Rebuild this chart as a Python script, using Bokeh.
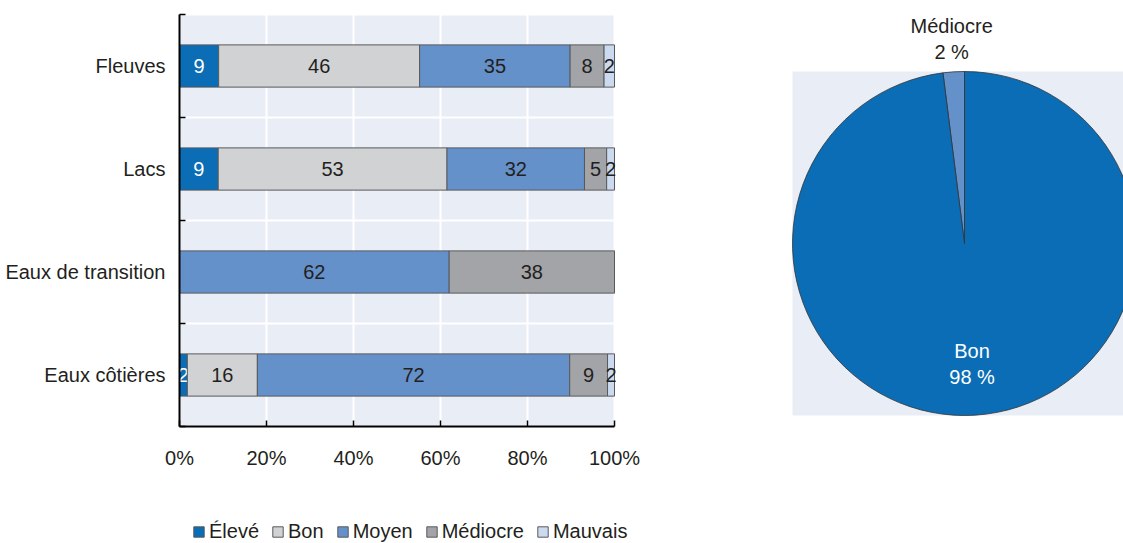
import math
from bokeh.plotting import figure
from bokeh.models import (FixedTicker, Legend, LegendItem, ColumnDataSource, Range1d,
                          LinearAxis)
from bokeh.core.properties import value
from bokeh.embed import file_html
from bokeh.resources import INLINE

# ---------------- data ----------------
categories = ["Fleuves", "Lacs", "Eaux de transition", "Eaux côtières"]
series = ["Élevé", "Bon", "Moyen", "Médiocre", "Mauvais"]
eleve = [9.0, 8.9, 0.0, 1.8]
bon = [46.2, 52.6, 0.0, 16.1]
moyen = [34.6, 31.6, 62.0, 71.8]
mediocre = [7.8, 5.1, 38.0, 8.7]
mauvais = [2.4, 1.8, 0.0, 1.6]
x_ticks = [0, 20, 40, 60, 80, 100]
x_tick_labels = ["0%", "20%", "40%", "60%", "80%", "100%"]

pie_labels = ["Médiocre", "Bon"]
pie_values = [2, 98]

# ---------------- style / geometry ----------------
FONT = "Liberation Sans"
FS = "20px"
TXT = "#231F20"
BG = "#E9EDF6"
colors = ["#0A6DB5", "#D1D2D4", "#6591CB", "#A2A4A7", "#CCDAF0"]
label_colors = ["white", TXT, TXT, TXT, TXT]
pie_colors = [colors[2], colors[0]]
pie_text_colors = [TXT, "white"]

W, H = 1123, 543
# bar panel placement in page pixels
BX0, BX1, BY0, BY1 = 179, 614, 14, 426
# pie placement in page pixels
PCX, PCY, PR = 964, 243, 172

n = len(categories)
xmax = 100.0
sx = (BX1 - BX0) / xmax          # px per x unit
sy = (BY1 - BY0) / n             # px per category band
x_range = Range1d(-BX0 / sx, (W - BX0) / sx)
y_range = Range1d(-(H - BY1) / sy, n + BY0 / sy)
pie_xr = Range1d(-PCX / PR, (W - PCX) / PR)
pie_yr = Range1d(-(H - PCY) / PR, PCY / PR)

p = figure(width=W, height=H, x_range=x_range, y_range=y_range,
           output_backend="svg", toolbar_location=None, min_border=0,
           x_axis_location=None, y_axis_location=None)
p.extra_x_ranges = {"pie": pie_xr}
p.extra_y_ranges = {"pie": pie_yr}
p.background_fill_color = "white"
p.border_fill_color = "white"
p.outline_line_color = None
p.grid.visible = False

ypos = [n - i - 0.5 for i in range(n)]
bounds = list(range(n + 1))

# plot-area background and white grid
p.quad(left=[0], right=[xmax], bottom=[0], top=[n], fill_color=BG, line_color=None)
p.segment(x0=x_ticks, y0=[0] * len(x_ticks), x1=x_ticks, y1=[n] * len(x_ticks),
          line_color="white", line_width=2)
p.segment(x0=[0] * len(bounds), y0=bounds, x1=[xmax] * len(bounds), y1=bounds,
          line_color="white", line_width=2)

values = [eleve, bon, moyen, mediocre, mauvais]
left = [0.0] * n
items = []
for s, vals, col, lc in zip(series, values, colors, label_colors):
    right = [l + v for l, v in zip(left, vals)]
    src = ColumnDataSource(dict(y=ypos, left=left, right=right))
    r = p.hbar(y="y", left="left", right="right", height=0.41, source=src,
               fill_color=col, line_color="#58595B", line_width=1)
    items.append(LegendItem(label=s, renderers=[r]))
    tx, ty, tt = [], [], []
    for l, rr, v, y in zip(left, right, vals, ypos):
        if v > 0:
            tx.append((l + rr) / 2)
            ty.append(y)
            tt.append(str(int(round(v))))
    p.text(x=tx, y=ty, text=tt, text_align="center", text_baseline="middle",
           text_font=value(FONT), text_font_size=FS, text_color=lc)
    left = right

# x axis (drawn at y = 0 inside the canvas)
xaxis = LinearAxis(fixed_location=0, bounds=(0, xmax),
                   ticker=FixedTicker(ticks=x_ticks))
xaxis.major_label_overrides = {t: l for t, l in zip(x_ticks, x_tick_labels)}
xaxis.major_tick_in = 6
xaxis.major_tick_out = 0
xaxis.minor_tick_line_color = None
xaxis.axis_line_color = "black"
xaxis.axis_line_width = 2
xaxis.major_tick_line_color = "black"
xaxis.major_tick_line_width = 1.5
xaxis.major_label_standoff = 20
xaxis.major_label_text_font = FONT
xaxis.major_label_text_font_size = FS
xaxis.major_label_text_color = TXT
p.add_layout(xaxis, "below")

# y axis (drawn at x = 0 inside the canvas)
yaxis = LinearAxis(fixed_location=0, bounds=(0, n),
                   ticker=FixedTicker(ticks=ypos, minor_ticks=bounds))
yaxis.major_label_overrides = {t: c for t, c in zip(ypos, categories)}
yaxis.major_tick_in = 0
yaxis.major_tick_out = 0
yaxis.minor_tick_in = 6
yaxis.minor_tick_out = 0
yaxis.minor_tick_line_color = "black"
yaxis.minor_tick_line_width = 1.5
yaxis.axis_line_color = "black"
yaxis.axis_line_width = 2
yaxis.major_label_standoff = 14
yaxis.major_label_text_font = FONT
yaxis.major_label_text_font_size = FS
yaxis.major_label_text_color = TXT
p.add_layout(yaxis, "left")

legend = Legend(items=items, orientation="horizontal", location=(192, 0),
                background_fill_alpha=0, border_line_color=None,
                label_text_font=FONT, label_text_font_size=FS,
                label_text_color=TXT, glyph_width=13, glyph_height=13,
                label_standoff=4, spacing=12, padding=0, margin=0)
p.add_layout(legend, "center")

# ---------------- pie chart ----------------
p.quad(left=[-1], right=[1], bottom=[-1], top=[1], fill_color=BG, line_color=None,
       x_range_name="pie", y_range_name="pie")

total = sum(pie_values)
start = math.pi / 2
starts, ends, mids = [], [], []
for v in pie_values:
    end = start + 2 * math.pi * v / total
    starts.append(start)
    ends.append(end)
    mids.append((start + end) / 2)
    start = end
p.wedge(x=0, y=0, radius=1, start_angle=starts, end_angle=ends,
        direction="anticlock", fill_color=pie_colors, line_color="#333333",
        line_width=0.8, x_range_name="pie", y_range_name="pie")

label_r = [1.19, 0.70]
for lab, v, m, rr, tc in zip(pie_labels, pie_values, mids, label_r, pie_text_colors):
    cx, cy = rr * math.cos(m), rr * math.sin(m)
    p.text(x=[cx], y=[cy], text=[lab], y_offset=-13, text_align="center",
           text_baseline="middle", text_font=value(FONT), text_font_size=FS,
           text_color=tc, x_range_name="pie", y_range_name="pie")
    p.text(x=[cx], y=[cy], text=[f"{v} %"], y_offset=13, text_align="center",
           text_baseline="middle", text_font=value(FONT), text_font_size=FS,
           text_color=tc, x_range_name="pie", y_range_name="pie")

open("out.html", "w").write(file_html(p, INLINE))
